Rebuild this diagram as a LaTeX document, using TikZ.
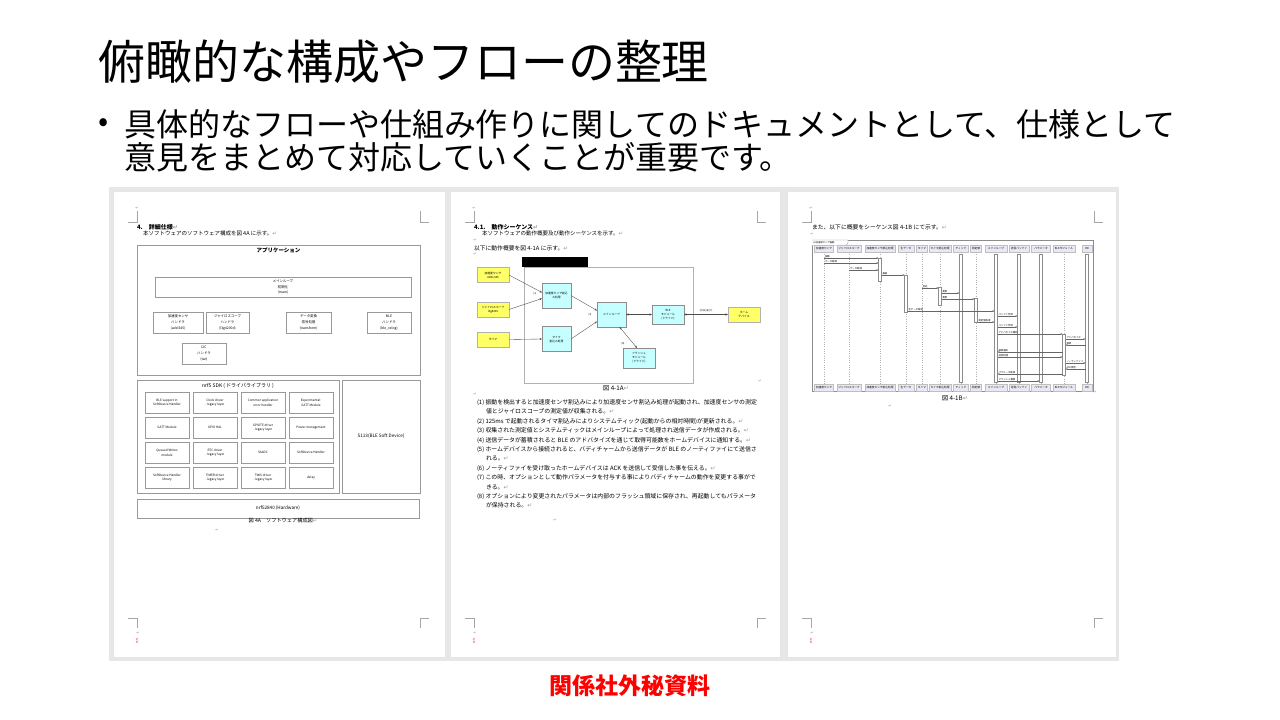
\documentclass[tikz,border=0pt]{standalone}
\usepackage{fontspec}
\setmainfont{Noto Sans CJK JP}
\newfontfamily\retfont{DejaVu Sans}
\usetikzlibrary{positioning,arrows.meta}
\definecolor{deskgray}{HTML}{E6E8E8}
\definecolor{memoyellow}{HTML}{FFFF66}
\definecolor{memocyan}{HTML}{C6FFFF}
\definecolor{seqlav}{HTML}{E9E9F5}
\definecolor{secretred}{HTML}{FF0000}
\newcommand{\retmark}{{\retfont\textcolor{black!40}{↵}}}
\newcommand{\pagemarks}[2]{%
  \draw[markline] (#1+15,222) -- (#1+24,222) -- (#1+24,211);
  \draw[markline] (#1+307,211) -- (#1+307,222) -- (#1+316,222);
  \draw[markline] (#1+15,618) -- (#1+24,618) -- (#1+24,628);
  \draw[markline] (#1+307,628) -- (#1+307,618) -- (#1+316,618);
  \node[retnode] (#2top) at (#1+24,208) {\retmark};
  \node[retnode] (#2bot) at (#1+25,633) {\retmark};
  \node[font=\fontsize{2.5}{3}\selectfont, text=secretred, align=center] (#2stamp) at (#1+24,641) {社\\外};
}
\begin{document}
\begin{tikzpicture}[x=1pt, y=-1pt, inner sep=0pt, outer sep=0pt, node distance=4pt,
  pagebox/.style={fill=white, draw=black!10, line width=.6pt, anchor=north west, minimum height=466pt},
  markline/.style={draw=black!35, line width=.5pt},
  retnode/.style={font=\fontsize{4}{5}\selectfont},
  smalltxt/.style={anchor=west, font=\fontsize{5.5}{7}\selectfont},
  headtxt/.style={anchor=west, font=\fontsize{6}{7}\selectfont\bfseries},
  blk/.style={draw=black!40, line width=.35pt, fill=white, align=center, font=\fontsize{3.4}{5.8}\selectfont},
  sdkbox/.style={blk, minimum width=44pt, minimum height=21pt, font=\fontsize{3.1}{4.6}\selectfont},
  handler/.style={blk, minimum height=21pt},
  sensorbox/.style={draw=black!30, fill=memoyellow, minimum width=32pt, minimum height=15pt, align=center, font=\fontsize{2.8}{4}\selectfont},
  procbox/.style={draw=black!45, fill=memocyan, minimum width=29pt, minimum height=25pt, align=center, font=\fontsize{2.8}{4}\selectfont},
  flowarr/.style={-{Stealth[length=2.5pt,width=2pt]}, draw=black!70, line width=.35pt},
  flowboth/.style={flowarr, {Stealth[length=2.5pt,width=2pt]}-{Stealth[length=2.5pt,width=2pt]}},
  flowlbl/.style={font=\fontsize{2.6}{3}\selectfont},
  partbox/.style={draw=black!25, fill=seqlav, minimum height=7pt, font=\fontsize{2.7}{3}\selectfont},
  actbar/.style={draw=black!45, fill=white, line width=.3pt, minimum width=3pt},
  lifeline/.style={draw=black!30, dotted, line width=.3pt},
  msg/.style={-{Stealth[length=2pt,width=1.6pt]}, draw=black!60, line width=.3pt},
  msglbl/.style={anchor=south west, xshift=1pt, yshift=.4pt, font=\fontsize{2.4}{3}\selectfont},
  ]
  \useasboundingbox (0,0) rectangle (1280,720);

  \node[anchor=west, font=\fontsize{47}{50}\selectfont] (title) at (98,62) {俯瞰的な構成やフローの整理};
  \node[font=\fontsize{30}{32}\selectfont] (bullet) at (104,125) {•};
  \node[anchor=north west, align=left, font=\fontsize{32}{33}\selectfont] (point) at (124,109)
    {具体的なフローや仕組み作りに関してのドキュメントとして、仕様として\\意見をまとめて対応していくことが重要です。};

  \fill[deskgray] (109,187) rectangle (1119,661);

  % page 1 : software structure
  \node[pagebox, minimum width=332pt] (pageA) at (113,191) {};
  \pagemarks{113}{pgA}
  \node[headtxt] (secHead) at (137,227) {4.\hspace{6pt}詳細仕様\retmark};
  \node[smalltxt] (secIntro) at (143,233) {本ソフトウェアのソフトウェア構成を図 4A に示す。\retmark};
  \node[blk, minimum width=283pt, minimum height=130pt, anchor=north west] (app) at (137,245) {};
  \node[font=\fontsize{5.5}{6}\selectfont\bfseries, below=3pt of app.north] (appTitle) {アプリケーション};
  \node[blk, minimum width=256pt, minimum height=20pt] (mainLoop) at (283,287) {メインループ\\初期化\\(main)};
  \node[handler, minimum width=50pt] (accHdl) at (178,322.5) {加速度センサ\\ハンドラ\\(adxl345)};
  \node[handler, minimum width=43pt] (gyroHdl) at (227.5,322.5) {ジャイロスコープ\\ハンドラ\\(l3g4200d)};
  \node[handler, minimum width=45pt] (convHdl) at (308.5,322.5) {データ変換\\信号処理\\(transform)};
  \node[handler, minimum width=44pt] (bleHdl) at (389,322.5) {BLE\\ハンドラ\\(ble\_vxlog)};
  \node[handler, minimum width=44pt] (twiHdl) at (204,353.5) {I2C\\ハンドラ\\(twi)};

  \node[blk, minimum width=202pt, minimum height=113pt, anchor=north west] (sdk) at (137,380) {};
  \node[font=\fontsize{5}{6}\selectfont, below=3.5pt of sdk.north] (sdkTitle) {nrf5 SDK ( ドライバライブラリ )};
  \node[sdkbox, anchor=north west] (bleSup) at (145,392) {BLE support in\\SoftDevice Handler};
  \node[sdkbox, right=of bleSup] (clockDrv) {Clock driver\\- legacy layer};
  \node[sdkbox, right=of clockDrv] (errHdl) {Common application\\error handler};
  \node[sdkbox, right=of errHdl] (gattExp) {Experimental:\\GATT Module};
  \node[sdkbox, below=of bleSup] (gattMod) {GATT Module};
  \node[sdkbox, right=of gattMod] (gpioHal) {GPIO HAL};
  \node[sdkbox, right=of gpioHal] (gpioteDrv) {GPIOTE driver\\- legacy layer};
  \node[sdkbox, right=of gpioteDrv] (powerMgmt) {Power management};
  \node[sdkbox, below=of gattMod] (queuedWr) {Queued Writes\\module};
  \node[sdkbox, right=of queuedWr] (rtcDrv) {RTC driver\\- legacy layer};
  \node[sdkbox, right=of rtcDrv] (saadc) {SAADC};
  \node[sdkbox, right=of saadc] (sdHdl) {SoftDevice Handler};
  \node[sdkbox, below=of queuedWr] (sdHdlLib) {SoftDevice Handler\\library};
  \node[sdkbox, right=of sdHdlLib] (timerDrv) {TIMER driver\\- legacy layer};
  \node[sdkbox, right=of timerDrv] (twisDrv) {TWIS driver\\- legacy layer};
  \node[sdkbox, right=of twisDrv] (delayMod) {delay};
  \node[blk, minimum width=78pt, minimum height=113pt, anchor=north west, font=\fontsize{4.6}{5}\selectfont] (s113) at (342,380) {S113(BLE Soft Device)};
  \node[blk, minimum width=282pt, minimum height=19pt, anchor=north west, font=\fontsize{4.6}{5}\selectfont] (hw) at (137,499) {nrf52840 (Hardware)};
  \node[font=\fontsize{5.2}{6}\selectfont] (figA) at (283,521) {図 4A\hspace{5pt}ソフトウェア構成図\retmark};
  \node[retnode] (retA) at (217,530) {\retmark};

  % page 2 : flow overview
  \node[pagebox, minimum width=330pt] (pageB) at (450,191) {};
  \pagemarks{450}{pgB}
  \node[headtxt] (seqHead) at (474,227) {4.1.\hspace{6pt}動作シーケンス\retmark};
  \node[smalltxt] (seqIntro) at (482,233) {本ソフトウェアの動作概要及び動作シーケンスを示す。\retmark};
  \node[retnode] (retB1) at (475,240) {\retmark};
  \node[smalltxt, font=\fontsize{5.8}{7}\selectfont] (flowIntro) at (474,248) {以下に動作概要を図 4-1A に示す。\retmark};
  \node[retnode] (retB2) at (475,254) {\retmark};
  \node[fill=black, minimum width=66pt, minimum height=10pt] (redact) at (555,262) {};
  \node[draw=black!30, line width=.4pt, minimum width=169pt, minimum height=116pt] (flowFrame) at (608.5,325) {};
  \node[sensorbox] (accSens) at (493,275) {加速度センサ\\ADXL345};
  \node[sensorbox] (gyroSens) at (493,309.5) {ジャイロスコープ\\l3g4200};
  \node[sensorbox] (timerSrc) at (493,339.5) {タイマ};
  \node[procbox] (accIsr) at (556.5,295.5) {加速度センサ割込\\み処理};
  \node[procbox] (timerIsr) at (556.5,339) {タイマ\\割込み処理};
  \node[procbox] (loopProc) at (611.5,314.5) {メインループ};
  \node[procbox, minimum width=32pt, minimum height=19pt] (bleDrv) at (668,314.5) {BLE\\モジュール\\(ドライバ)};
  \node[procbox, minimum width=32pt, minimum height=20pt] (flashDrv) at (639,358) {フラッシュ\\モジュール\\(ドライバ)};
  \node[sensorbox] (homeDev) at (744,314.5) {ホーム\\デバイス};
  \draw[flowarr] (accSens.east) -- ([yshift=3pt]accIsr.west);
  \draw[flowarr] (gyroSens.east) -- ([yshift=-3pt]accIsr.west);
  \draw[flowarr] (timerSrc.east) -- (timerIsr.west);
  \draw[flowarr] (accIsr.east) -- ([yshift=4pt]loopProc.west);
  \draw[flowarr] (timerIsr.east) -- ([yshift=-7pt]loopProc.west);
  \draw[flowboth] (loopProc.east) -- (bleDrv.west);
  \draw[flowboth] (bleDrv.east) -- (homeDev.west);
  \draw[flowboth] ([xshift=8pt]loopProc.south) -- ([xshift=-2pt]flashDrv.north);
  \node[flowlbl] (lblOne) at (535,294) {(1)};
  \node[flowlbl] (lblThree) at (590,315) {(3)};
  \node[flowlbl] (lblEight) at (623,344) {(8)};
  \node[flowlbl] (lblBle) at (706,311) {(4)(5)(6)(7)};
  \node[font=\fontsize{6.2}{7}\selectfont] (figB) at (616,388) {図 4-1A\retmark};
  \node[retnode] (retB3) at (760,381) {\retmark};
  \node[retnode] (retB4) at (475,394) {\retmark};
  \node[anchor=north west, align=left, font=\fontsize{5.9}{9.4}\selectfont] (stepList) at (477,399.5)
    {(1) 振動を検出すると加速度センサ割込みにより加速度センサ割込み処理が起動され、加速度センサの測定\\
     \hspace*{9pt}値とジャイロスコープの測定値が収集される。\retmark\\
     (2) 125ms で起動されるタイマ割込みによりシステムティック(起動からの相対時間)が更新される。\retmark\\
     (3) 収集された測定値とシステムティックはメインループによって処理され送信データが作成される。\retmark\\
     (4) 送信データが蓄積されると BLE のアドバタイズを通じて取得可能数をホームデバイスに通知する。\retmark\\
     (5) ホームデバイスから接続されると、バディチャームから送信データが BLE のノーティファイにて送信さ\\
     \hspace*{9pt}れる。\retmark\\
     (6) ノーティファイを受け取ったホームデバイスは ACK を送信して受信した事を伝える。\retmark\\
     (7) この時、オプションとして動作パラメータを付与する事によりバディチャームの動作を変更する事がで\\
     \hspace*{9pt}きる。\retmark\\
     (8) オプションにより変更されたパラメータは内部のフラッシュ領域に保存され、再起動してもパラメータ\\
     \hspace*{9pt}が保持される。\retmark};
  \node[retnode] (retB5) at (555,520) {\retmark};

  % page 3 : sequence
  \node[pagebox, minimum width=329pt] (pageC) at (787,191) {};
  \pagemarks{787}{pgC}
  \node[smalltxt, font=\fontsize{5.8}{7}\selectfont] (seqIntroB) at (812,227) {また、以下に概要をシーケンス図 4-1B にて示す。\retmark};
  \node[retnode] (retC1) at (812,234) {\retmark};
  \node[draw=black!45, line width=.4pt, minimum width=281pt, minimum height=151pt, anchor=north west] (seqFrame) at (812,240) {};
  \draw[draw=black!45, line width=.3pt, fill=white] (seqFrame.north west) -- ++(36,0) -- ++(0,3) -- ++(-2,2.5) -- ++(-34,0);
  \node[anchor=west, font=\fontsize{2.3}{3}\selectfont] (seqTab) at (813,242.7) {sd 加速度センサ振動};
  \node[partbox, minimum width=19pt] (accT) at (824,248.5) {加速度センサ};
  \node[partbox, minimum width=24pt] (gyroT) at (849,248.5) {ジャイロスコープ};
  \node[partbox, minimum width=30pt] (accIsrT) at (880,248.5) {加速度センサ割込処理};
  \node[partbox, minimum width=16pt] (rawT) at (906,248.5) {生データ};
  \node[partbox, minimum width=11pt] (tmrT) at (922,248.5) {タイマ};
  \node[partbox, minimum width=22pt] (tmrIsrT) at (940,248.5) {タイマ割込処理};
  \node[partbox, minimum width=15pt] (tickT) at (961,248.5) {ティック};
  \node[partbox, minimum width=11pt] (measT) at (976,248.5) {測定値};
  \node[partbox, minimum width=22pt] (loopT) at (996,248.5) {メインループ};
  \node[partbox, minimum width=20pt] (txBufT) at (1019,248.5) {送信バッファ};
  \node[partbox, minimum width=19pt] (paramT) at (1041,248.5) {パラメータ};
  \node[partbox, minimum width=22pt] (bleT) at (1064,248.5) {BLEモジュール};
  \node[partbox, minimum width=10pt] (hdT) at (1087,248.5) {HD};
  \node[partbox, minimum width=19pt] (accB) at (824,387.5) {加速度センサ};
  \node[partbox, minimum width=24pt] (gyroB) at (849,387.5) {ジャイロスコープ};
  \node[partbox, minimum width=30pt] (accIsrB) at (880,387.5) {加速度センサ割込処理};
  \node[partbox, minimum width=16pt] (rawB) at (906,387.5) {生データ};
  \node[partbox, minimum width=11pt] (tmrB) at (922,387.5) {タイマ};
  \node[partbox, minimum width=22pt] (tmrIsrB) at (940,387.5) {タイマ割込処理};
  \node[partbox, minimum width=15pt] (tickB) at (961,387.5) {ティック};
  \node[partbox, minimum width=11pt] (measB) at (976,387.5) {測定値};
  \node[partbox, minimum width=22pt] (loopB) at (996,387.5) {メインループ};
  \node[partbox, minimum width=20pt] (txBufB) at (1019,387.5) {送信バッファ};
  \node[partbox, minimum width=19pt] (paramB) at (1041,387.5) {パラメータ};
  \node[partbox, minimum width=22pt] (bleB) at (1064,387.5) {BLEモジュール};
  \node[partbox, minimum width=10pt] (hdB) at (1087,387.5) {HD};
  \draw[lifeline] (accT) -- (accB);
  \draw[lifeline] (gyroT) -- (gyroB);
  \draw[lifeline] (accIsrT) -- (accIsrB);
  \draw[lifeline] (rawT) -- (rawB);
  \draw[lifeline] (tmrT) -- (tmrB);
  \draw[lifeline] (tmrIsrT) -- (tmrIsrB);
  \draw[lifeline] (tickT) -- (tickB);
  \draw[lifeline] (measT) -- (measB);
  \draw[lifeline] (loopT) -- (loopB);
  \draw[lifeline] (txBufT) -- (txBufB);
  \draw[lifeline] (paramT) -- (paramB);
  \draw[lifeline] (bleT) -- (bleB);
  \draw[lifeline] (hdT) -- (hdB);
  \node[actbar, minimum height=23pt] (accIsrBar) at (accIsrT |- 0,269.5) {};
  \node[actbar, minimum height=37pt] (rawBar) at (rawT |- 0,293.5) {};
  \node[actbar, minimum height=18pt] (tmrIsrBar) at (tmrIsrT |- 0,296) {};
  \node[actbar, minimum height=24pt] (measBar) at (measT |- 0,310) {};
  \node[actbar, minimum height=41pt] (bleBar) at (bleT |- 0,354.5) {};
  \node[actbar, minimum height=128pt] (tickBar) at (tickT |- 0,318) {};
  \node[actbar, minimum height=128pt] (loopBar) at (loopT |- 0,318) {};
  \node[actbar, minimum height=128pt] (txBufBar) at (txBufT |- 0,318) {};
  \node[actbar, minimum height=128pt] (paramBar) at (paramT |- 0,318) {};
  \node[actbar, minimum height=128pt] (hdBar) at (hdT |- 0,318) {};
  \draw[msg] (accT |- 0,258) -- node[msglbl, pos=0] {振動} (accIsrBar.west |- 0,258);
  \draw[msg] (accT |- 0,263) -- node[msglbl, pos=0] {データ取得} (accIsrBar.west |- 0,263);
  \draw[msg] (gyroT |- 0,270) -- node[msglbl, pos=0] {データ取得} (accIsrBar.west |- 0,270);
  \draw[msg] (accIsrBar.east |- 0,275) -- node[msglbl, pos=0] {格納} (rawBar.west |- 0,275);
  \draw[msg] (tmrT |- 0,288) -- node[msglbl, pos=0] {割込} (tmrIsrBar.west |- 0,288);
  \draw[msg] (tmrIsrBar.east |- 0,293) -- node[msglbl, pos=0] {更新} (tickBar.west |- 0,293);
  \draw[msg] (tmrIsrBar.east |- 0,299) -- node[msglbl, pos=0] {更新} (measBar.west |- 0,299);
  \draw[msg] (rawBar.east |- 0,311) -- node[msglbl, pos=0] {生データ取得} (loopBar.west |- 0,311);
  \draw[msg] (loopBar.east |- 0,316) -- node[msglbl, pos=0] {バッファ作成} (txBufBar.west |- 0,316);
  \draw[msg] (measBar.east |- 0,322) -- node[msglbl, pos=0] {測定値取得} (loopBar.west |- 0,322);
  \draw[msg] (loopBar.east |- 0,327) -- node[msglbl, pos=0] {バッファ作成} (txBufBar.west |- 0,327);
  \draw[msg] (loopBar.east |- 0,334) -- node[msglbl, pos=0] {アドバタイズ開始} (bleBar.west |- 0,334);
  \draw[msg] (bleBar.east |- 0,339) -- node[msglbl, pos=0] {アドバタイズ} (hdBar.west |- 0,339);
  \draw[msg] (hdBar.west |- 0,345) -- node[msglbl, pos=1] {接続} (bleBar.east |- 0,345);
  \draw[msg] (bleBar.west |- 0,352) -- node[msglbl, pos=1] {接続通知} (loopBar.east |- 0,352);
  \draw[msg] (loopBar.east |- 0,357) -- node[msglbl, pos=0] {送信処理} (bleBar.west |- 0,357);
  \draw[msg] (bleBar.east |- 0,363) -- node[msglbl, pos=0] {ノーティファイ} (hdBar.west |- 0,363);
  \draw[msg] (hdBar.west |- 0,369) -- node[msglbl, pos=1] {ACK受信} (bleBar.east |- 0,369);
  \draw[msg] (bleBar.west |- 0,374) -- node[msglbl, pos=1] {パラメータ取得} (loopBar.east |- 0,374);
  \draw[msg] (loopBar.east |- 0,381) -- node[msglbl, pos=0] {フラッシュ書換} (paramBar.west |- 0,381);
  \node[font=\fontsize{6.2}{7}\selectfont] (figC) at (955,398) {図 4-1B\retmark};
  \node[retnode] (retC2) at (1095,392) {\retmark};
  \node[retnode] (retC3) at (890,406) {\retmark};

  \node[font=\fontsize{23}{24}\selectfont\bfseries, text=secretred] (secret) at (630,686) {関係社外秘資料};
\end{tikzpicture}
\end{document}
